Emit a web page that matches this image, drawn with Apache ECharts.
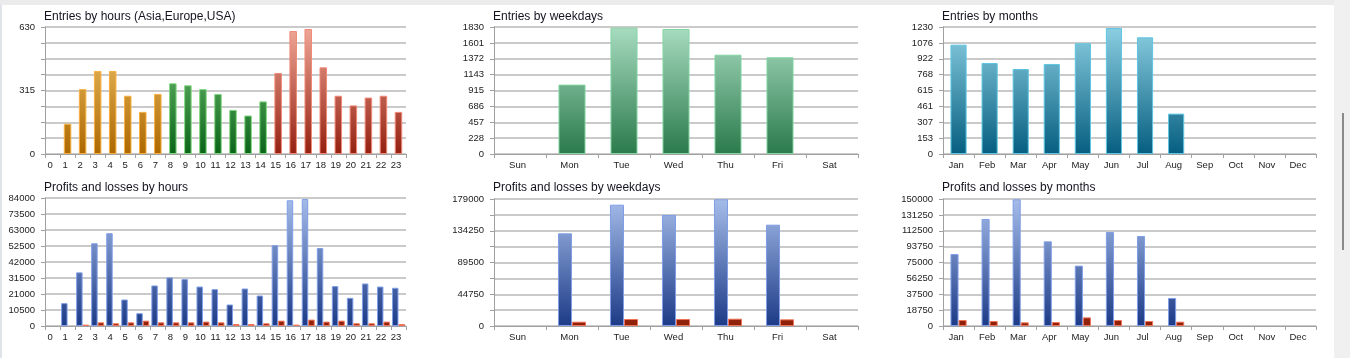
<!DOCTYPE html>
<html><head><meta charset="utf-8">
<script src="https://cdn.jsdelivr.net/npm/echarts@6/dist/echarts.min.js"></script>
<style>
html,body{margin:0;padding:0;width:1350px;height:358px;overflow:hidden;background:#fff;font-family:"Liberation Sans",Arial,sans-serif;}
#chart{position:absolute;left:0;top:0;width:1334px;height:358px;}
#topbar{position:absolute;left:0;top:0;width:1334px;height:5px;background:#ebebeb;}
#rightpanel{position:absolute;left:1334px;top:0;width:16px;height:358px;background:#f0f0f0;}
#thumb{position:absolute;left:1342px;top:113px;width:2px;height:137px;background:#8a8a8a;}
#leftline{position:absolute;left:0;top:5px;width:2px;height:353px;background:#dfe4ea;}
</style></head>
<body>
<div id="chart"></div>
<div id="topbar"></div><div id="rightpanel"></div><div id="thumb"></div><div id="leftline"></div>
<script>
// ---------- data ----------
const hours = ['0','1','2','3','4','5','6','7','8','9','10','11','12','13','14','15','16','17','18','19','20','21','22','23'];
const weekdays = ['Sun','Mon','Tue','Wed','Thu','Fri','Sat'];
const months = ['Jan','Feb','Mar','Apr','May','Jun','Jul','Aug','Sep','Oct','Nov','Dec'];

const hourRegion = ['Asia','Asia','Asia','Asia','Asia','Asia','Asia','Asia',
  'Europe','Europe','Europe','Europe','Europe','Europe','Europe',
  'USA','USA','USA','USA','USA','USA','USA','USA','USA'];

const entriesByHour = [0,150,322,412,412,289,209,298,351,341,322,298,219,191,261,402,610,620,430,289,241,280,289,209];
const entriesByWeekday = [0,1000,1820,1801,1431,1393,0];
const entriesByMonth = [1059,881,823,872,1072,1220,1130,391,0,0,0,0];

const profitsByHour = [0,15000,35200,54300,60900,17400,8400,26600,31900,30800,25900,24200,14100,24600,20000,53000,82500,83300,51200,26200,18500,27900,25900,25100];
const lossesByHour  = [0,0,900,2400,1800,2400,3500,2400,2400,2400,2900,2400,1300,1300,1800,3500,900,4200,2900,3500,1800,1800,2900,1300];
const profitsByWeekday = [0,130600,171000,156400,178600,142800,0];
const lossesByWeekday  = [0,6100,9900,9900,10300,9400,0];
const profitsByMonth = [85000,126400,149600,100000,71300,111000,106300,33100,0,0,0,0];
const lossesByMonth  = [7100,5900,4300,4700,10200,7100,5900,5100,0,0,0,0];

const ticksEntriesHour = ['0','315','630'];
const ticksEntriesWeekday = ['0','228','457','686','915','1143','1372','1601','1830'];
const ticksEntriesMonth = ['0','153','307','461','615','768','922','1076','1230'];
const ticksProfitsHour = ['0','10500','21000','31500','42000','52500','63000','73500','84000'];
const ticksProfitsWeekday = ['0','44750','89500','134250','179000'];
const ticksProfitsMonth = ['0','18750','37500','56250','75000','93750','112500','131250','150000'];

const titles = ['Entries by hours (Asia,Europe,USA)','Entries by weekdays','Entries by months',
  'Profits and losses by hours','Profits and losses by weekdays','Profits and losses by months'];

// ---------- layout ----------
const grids = [
  {left:45, top:27, width:361, height:127},
  {left:494, top:27, width:364, height:127},
  {left:943, top:27, width:373, height:127},
  {left:45, top:198, width:361, height:128},
  {left:494, top:199, width:364, height:127},
  {left:943, top:199, width:373, height:127}
];
const titlePos = [[44,11],[493,11],[942,11],[44,182],[493,182],[942,182]];

function grad(g, c1, c2){
  return new echarts.graphic.LinearGradient(0, g.top, 0, g.top + g.height,
    [{offset:0, color:c1},{offset:1, color:c2}], true);
}
const axisColor = '#a0a0a0';
function yAxis(gi, ticks){
  const max = Number(ticks[ticks.length-1]);
  const interval = max/8;
  const step = 8/(ticks.length-1);
  return {type:'value', gridIndex:gi, min:0, max:max, interval:interval,
    axisLine:{show:true, lineStyle:{color:axisColor}},
    axisTick:{show:true, length:4, lineStyle:{color:axisColor}},
    axisLabel:{fontSize:9.5, color:'#222', margin:10, fontFamily:'Liberation Sans',
      formatter:function(v){const k=Math.round(v/interval); return (k%step===0)? ticks[k/step] : '';}},
    splitLine:{show:true, lineStyle:{color:'#cacaca', width:2}}};
}
function xAxis(gi, cats){
  return {type:'category', gridIndex:gi, data:cats, boundaryGap:true,
    axisLine:{lineStyle:{color:axisColor}},
    axisTick:{show:true, length:4, lineStyle:{color:axisColor}},
    axisLabel:{fontSize:9.5, color:'#222', margin:6, interval:0, padding:[0,5,0,0], fontFamily:'Liberation Sans'},
    splitLine:{show:false}};
}
const nz = v => v === 0 ? '-' : v;

const regionStyle = {
  Asia:   {c1:'#f4c870', c2:'#ad6800', b:'#f8b040'},
  Europe: {c1:'#80cc80', c2:'#0a6418', b:'#84d884'},
  USA:    {c1:'#f0a898', c2:'#942010', b:'#f08a78'}
};

const g = grids;
const series = [];
series.push({type:'bar', xAxisIndex:0, yAxisIndex:0, barWidth:'50%',
  data: entriesByHour.map((v,i)=>{const s=regionStyle[hourRegion[i]];
    return {value:nz(v), itemStyle:{color:grad(g[0],s.c1,s.c2), borderColor:s.b, borderWidth:1}};})});
series.push({type:'bar', xAxisIndex:1, yAxisIndex:1, barWidth:'52%',
  itemStyle:{color:grad(g[1],'#a8dcc0','#2a7a4c'), borderColor:'#84d4a4', borderWidth:1},
  data: entriesByWeekday.map(nz)});
series.push({type:'bar', xAxisIndex:2, yAxisIndex:2, barWidth:'52%',
  itemStyle:{color:grad(g[2],'#8ccfe2','#055e80'), borderColor:'#5ec6e2', borderWidth:1},
  data: entriesByMonth.map(nz)});
const plSets = [[3, profitsByHour, lossesByHour, '14%'],[4, profitsByWeekday, lossesByWeekday, '46%'],[5, profitsByMonth, lossesByMonth, '48%']];
plSets.forEach(([gi, p, l, gap])=>{
  series.push({type:'bar', xAxisIndex:gi, yAxisIndex:gi, barGap:'0%', barCategoryGap:gap,
    itemStyle:{color:grad(g[gi],'#a6bdea','#1c3a86'), borderColor:'#7f9ee6', borderWidth:1},
    data:p.map(nz)});
  series.push({type:'bar', xAxisIndex:gi, yAxisIndex:gi, barGap:'0%', barCategoryGap:gap,
    itemStyle:{color:grad(g[gi],'#f0a090','#8e1e06'), borderColor:'#f07458', borderWidth:1},
    data:l.map(nz)});
});

const option = {
  animation:false,
  backgroundColor:'transparent',
  title: titles.map((t,i)=>({text:t, left:titlePos[i][0], top:titlePos[i][1], padding:0,
    textStyle:{fontSize:12, fontWeight:'normal', color:'#141420', fontFamily:'Liberation Sans'}})),
  grid: grids.map(gr=>Object.assign({containLabel:false}, gr)),
  xAxis: [xAxis(0,hours), xAxis(1,weekdays), xAxis(2,months), xAxis(3,hours), xAxis(4,weekdays), xAxis(5,months)],
  yAxis: [yAxis(0,ticksEntriesHour), yAxis(1,ticksEntriesWeekday), yAxis(2,ticksEntriesMonth),
          yAxis(3,ticksProfitsHour), yAxis(4,ticksProfitsWeekday), yAxis(5,ticksProfitsMonth)],
  series: series
};
const chart = echarts.init(document.getElementById('chart'), null, {renderer:'canvas'});
chart.setOption(option);
</script>
</body></html>
